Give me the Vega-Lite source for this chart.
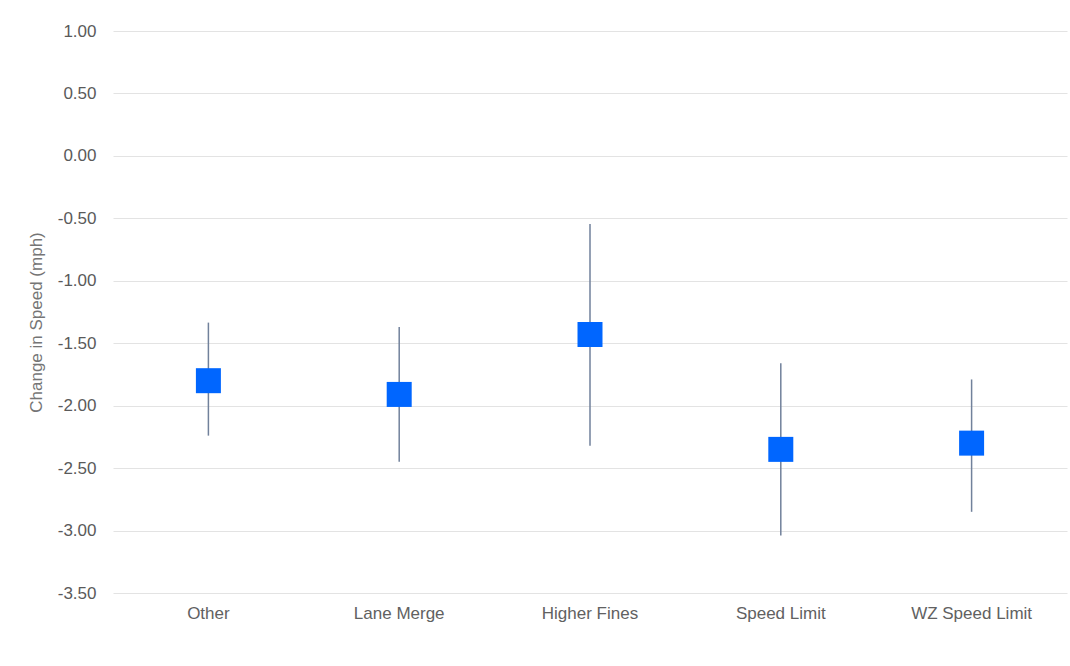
{
  "$schema": "https://vega.github.io/schema/vega-lite/v6.json",
  "autosize": "none",
  "width": 954,
  "height": 562,
  "padding": {"left": 113, "top": 31, "right": 3, "bottom": 73},
  "background": "white",
  "config": {
    "view": {"stroke": null},
    "font": "Liberation Sans",
    "axis": {"labelFont": "Liberation Sans", "titleFont": "Liberation Sans"}
  },
  "data": {
    "values": [
      {"category": "Other", "mean": -1.80, "low": -2.24, "high": -1.335},
      {"category": "Lane Merge", "mean": -1.91, "low": -2.45, "high": -1.37},
      {"category": "Higher Fines", "mean": -1.43, "low": -2.32, "high": -0.545},
      {"category": "Speed Limit", "mean": -2.35, "low": -3.04, "high": -1.66},
      {"category": "WZ Speed Limit", "mean": -2.30, "low": -2.85, "high": -1.79}
    ]
  },
  "encoding": {
    "x": {
      "field": "category",
      "type": "nominal",
      "sort": null,
      "scale": {"paddingInner": 0, "paddingOuter": 0},
      "axis": {
        "title": null,
        "labelAngle": 0,
        "domain": false,
        "ticks": false,
        "labelPadding": 12,
        "labelFontSize": 17,
        "labelColor": "#616161",
        "grid": false
      }
    }
  },
  "layer": [
    {
      "mark": {"type": "rule", "color": "#71819b", "strokeWidth": 1.5},
      "encoding": {
        "y": {
          "field": "low",
          "type": "quantitative",
          "scale": {"domain": [-3.5, 1], "nice": false, "zero": false},
          "axis": {
            "title": "Change in Speed (mph)",
            "titleFontSize": 17,
            "titleFontWeight": "normal",
            "titleColor": "#757575",
            "titlePadding": 12,
            "titleY": 291,
            "values": [1, 0.5, 0, -0.5, -1, -1.5, -2, -2.5, -3, -3.5],
            "labelExpr": "replace(format(datum.value, '.2f'), '\u2212', '-')",
            "labelFontSize": 17,
            "labelColor": "#5a5a5a",
            "labelPadding": 17,
            "ticks": false,
            "domain": false,
            "grid": true,
            "gridColor": "#e3e3e3",
            "gridWidth": 1
          }
        },
        "y2": {"field": "high"}
      }
    },
    {
      "mark": {"type": "point", "shape": "square", "filled": true, "opacity": 1, "size": 625, "color": "#0066ff"},
      "encoding": {
        "y": {"field": "mean", "type": "quantitative"}
      }
    }
  ]
}
